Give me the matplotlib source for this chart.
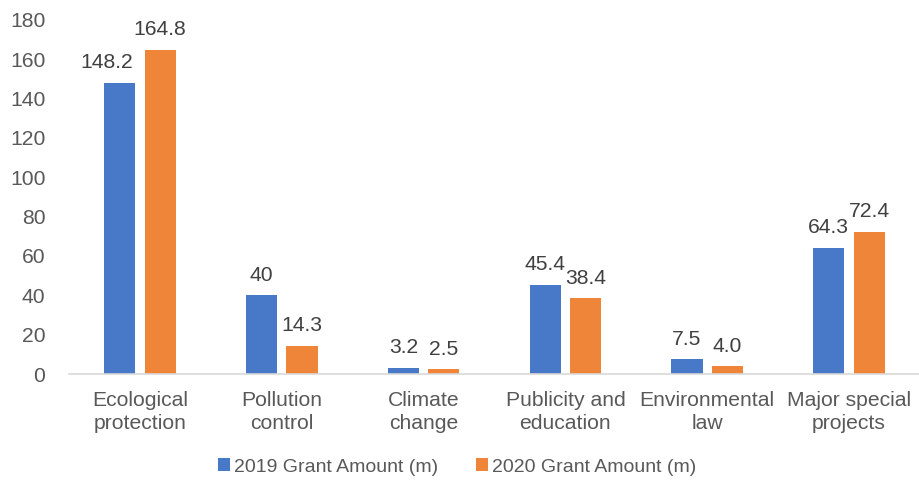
import matplotlib
matplotlib.use("Agg")
import matplotlib.pyplot as plt
import numpy as np

categories = ["Ecological\nprotection", "Pollution\ncontrol", "Climate\nchange",
              "Publicity and\neducation", "Environmental\nlaw", "Major special\nprojects"]
series_names = ["2019 Grant Amount (m)", "2020 Grant Amount (m)"]
values_2019 = [148.2, 40, 3.2, 45.4, 7.5, 64.3]
values_2020 = [164.8, 14.3, 2.5, 38.4, 4.0, 72.4]
labels_2019 = ["148.2", "40", "3.2", "45.4", "7.5", "64.3"]
labels_2020 = ["164.8", "14.3", "2.5", "38.4", "4.0", "72.4"]
yticks = [0, 20, 40, 60, 80, 100, 120, 140, 160, 180]

plt.rcParams['font.family'] = ['Liberation Sans', 'DejaVu Sans']
gray = '#595959'
c1, c2 = '#4878C8', '#EE8539'
fs = 15.2

fig = plt.figure(figsize=(9.2, 4.87), dpi=100)
ax = fig.add_axes([0.075, 0.232, 0.925, 0.727])

x = np.arange(len(categories))
w = 0.22
gap = 0.065
b1 = ax.bar(x - (w + gap) / 2, values_2019, w, color=c1, label=series_names[0])
b2 = ax.bar(x + (w + gap) / 2, values_2020, w, color=c2, label=series_names[1])
for si, (bars, labs) in enumerate(((b1, labels_2019), (b2, labels_2020))):
    for ci, (r, lab) in enumerate(zip(bars, labs)):
        dx = -13 if (si == 0 and ci == 0) else 0
        ax.annotate(lab, (r.get_x() + r.get_width() / 2, r.get_height()),
                    xytext=(dx * 0.72, 7.5), textcoords='offset points', ha='center', va='bottom',
                    fontsize=fs, color='#404040')

ax.set_xlim(-0.5, len(categories) - 0.5)
ax.set_ylim(0, 180)
ax.set_yticks(yticks)
ax.set_xticks(x)
ax.set_xticklabels(categories, fontsize=fs, color=gray, linespacing=1.27)
ax.tick_params(axis='y', labelsize=fs, labelcolor=gray, length=0, pad=17)
ax.tick_params(axis='x', length=0, pad=12.5)
for s in ['top', 'right', 'left']:
    ax.spines[s].set_visible(False)
ax.spines['bottom'].set_color('#D9D9D9')
ax.spines['bottom'].set_linewidth(1.2)

lfs = 14
fig.legend(handles=[b1, b2], loc='center', bbox_to_anchor=(0.497, 0.041), ncol=2,
           frameon=False, fontsize=lfs, labelcolor=gray, handlelength=0.62,
           handleheight=0.62, handletextpad=0.2, columnspacing=1.95,
           borderpad=0, borderaxespad=0)

fig.savefig('out.png', dpi=100)
